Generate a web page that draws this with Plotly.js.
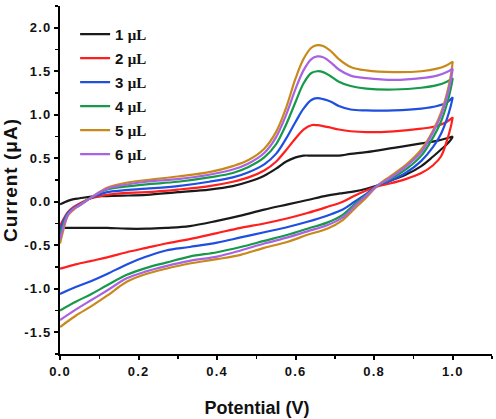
<!DOCTYPE html>
<html>
<head>
<meta charset="utf-8">
<script src="https://cdn.plot.ly/plotly-3.0.1.min.js"></script>
<style>
  html, body { margin: 0; padding: 0; background: #ffffff; }
  #chart { width: 496px; height: 419px; }
  .xtick text, .ytick text { letter-spacing: 1.2px; }
  .g-ytitle text { letter-spacing: 1px; }
  .g-xtitle { transform: translate(-19px, 0px); }
</style>
</head>
<body>
<div id="chart"></div>
<script>
// ---- data ----
const seriesNames = ['1 μL', '2 μL', '3 μL', '4 μL', '5 μL', '6 μL'];
const seriesColors = ['#1a1a1a', '#ff1f1f', '#1e4fe0', '#17994a', '#c8891a', '#a862e2'];

// forward (anodic) scan potentials, V
const potentialForward = [0, 0.01, 0.02, 0.035, 0.05, 0.08, 0.12, 0.16, 0.22, 0.3, 0.38, 0.44, 0.48, 0.52, 0.55, 0.575, 0.6, 0.62, 0.64, 0.655, 0.67, 0.69, 0.71, 0.74, 0.78, 0.85, 0.92, 0.96, 0.985, 1.0];
// reverse (cathodic) scan potentials, V
const potentialReverse = [1.0, 0.995, 0.985, 0.97, 0.95, 0.92, 0.88, 0.84, 0.81, 0.78, 0.75, 0.72, 0.68, 0.63, 0.58, 0.52, 0.46, 0.4, 0.33, 0.27, 0.22, 0.17, 0.12, 0.08, 0.04, 0.0];

// currents, μA
const forward1uL = [-0.03, -0.01, 0.01, 0.03, 0.04, 0.06, 0.065, 0.07, 0.08, 0.11, 0.14, 0.18, 0.23, 0.30, 0.38, 0.46, 0.51, 0.53, 0.53, 0.53, 0.53, 0.53, 0.53, 0.55, 0.57, 0.62, 0.67, 0.70, 0.73, 0.75];
const reverse1uL = [0.75, 0.71, 0.66, 0.60, 0.52, 0.41, 0.31, 0.24, 0.19, 0.15, 0.12, 0.10, 0.07, 0.02, -0.03, -0.09, -0.16, -0.22, -0.28, -0.30, -0.31, -0.31, -0.30, -0.30, -0.30, -0.30];

const forward2uL = [-0.28, -0.19, -0.12, -0.06, -0.02, 0.04, 0.08, 0.10, 0.11, 0.14, 0.18, 0.23, 0.28, 0.36, 0.46, 0.59, 0.73, 0.83, 0.88, 0.88, 0.87, 0.85, 0.83, 0.81, 0.80, 0.81, 0.84, 0.87, 0.92, 0.97];
const reverse2uL = [0.97, 0.86, 0.70, 0.52, 0.42, 0.33, 0.26, 0.21, 0.18, 0.13, 0.07, 0.00, -0.06, -0.13, -0.19, -0.25, -0.30, -0.36, -0.43, -0.48, -0.53, -0.58, -0.64, -0.68, -0.72, -0.77];

const forward3uL = [-0.33, -0.21, -0.13, -0.07, -0.03, 0.045, 0.11, 0.13, 0.15, 0.18, 0.23, 0.28, 0.34, 0.43, 0.55, 0.72, 0.92, 1.07, 1.17, 1.19, 1.18, 1.15, 1.10, 1.06, 1.05, 1.05, 1.07, 1.10, 1.14, 1.20];
const reverse3uL = [1.20, 1.10, 0.95, 0.78, 0.63, 0.47, 0.33, 0.24, 0.19, 0.09, 0.00, -0.09, -0.16, -0.23, -0.29, -0.35, -0.41, -0.47, -0.52, -0.56, -0.63, -0.72, -0.83, -0.91, -0.98, -1.06];

const forward4uL = [-0.38, -0.24, -0.14, -0.08, -0.04, 0.05, 0.14, 0.17, 0.20, 0.23, 0.28, 0.33, 0.40, 0.51, 0.66, 0.88, 1.15, 1.36, 1.48, 1.50, 1.49, 1.44, 1.38, 1.33, 1.30, 1.29, 1.31, 1.34, 1.38, 1.42];
const reverse4uL = [1.42, 1.30, 1.12, 0.92, 0.74, 0.53, 0.37, 0.26, 0.19, 0.08, -0.03, -0.15, -0.24, -0.31, -0.38, -0.45, -0.52, -0.58, -0.63, -0.70, -0.76, -0.84, -0.96, -1.06, -1.15, -1.25];

const forward5uL = [-0.48, -0.30, -0.16, -0.09, -0.04, 0.05, 0.16, 0.21, 0.25, 0.29, 0.34, 0.41, 0.48, 0.61, 0.80, 1.07, 1.42, 1.64, 1.77, 1.80, 1.79, 1.73, 1.64, 1.55, 1.51, 1.49, 1.50, 1.53, 1.57, 1.61];
const reverse5uL = [1.61, 1.45, 1.24, 1.02, 0.82, 0.60, 0.42, 0.29, 0.19, 0.05, -0.08, -0.21, -0.31, -0.38, -0.46, -0.53, -0.61, -0.66, -0.71, -0.77, -0.83, -0.92, -1.08, -1.20, -1.31, -1.44];

const forward6uL = [-0.43, -0.27, -0.15, -0.08, -0.04, 0.05, 0.15, 0.19, 0.23, 0.26, 0.31, 0.37, 0.44, 0.56, 0.74, 0.99, 1.30, 1.51, 1.64, 1.67, 1.66, 1.60, 1.52, 1.45, 1.42, 1.40, 1.42, 1.45, 1.49, 1.53];
const reverse6uL = [1.53, 1.39, 1.20, 0.99, 0.80, 0.57, 0.40, 0.27, 0.19, 0.07, -0.05, -0.18, -0.27, -0.34, -0.41, -0.48, -0.56, -0.63, -0.68, -0.74, -0.80, -0.88, -1.02, -1.13, -1.24, -1.36];

const xTickVals = [0, 0.2, 0.4, 0.6, 0.8, 1.0];
const xTickText = ['0.0', '0.2', '0.4', '0.6', '0.8', '1.0'];
const yTickVals = [-1.5, -1.0, -0.5, 0, 0.5, 1.0, 1.5, 2.0];
const yTickText = ['-1.5', '-1.0', '-0.5', '0.0', '0.5', '1.0', '1.5', '2.0'];

// ---- build traces ----
const forwardSets = [forward1uL, forward2uL, forward3uL, forward4uL, forward5uL, forward6uL];
const reverseSets = [reverse1uL, reverse2uL, reverse3uL, reverse4uL, reverse5uL, reverse6uL];

const FONT = 'Liberation Sans, Arial, sans-serif';
const traces = seriesNames.map(function (name, i) {
  const parts = name.split(' ');
  return {
    type: 'scatter',
    mode: 'lines',
    name: parts[0] + ' <span style="font-family:\'Liberation Serif\', serif">' + parts[1] + '</span>',
    legendgroup: 'g' + i,
    x: potentialForward.concat(potentialReverse),
    y: forwardSets[i].concat(reverseSets[i]),
    line: { color: seriesColors[i], width: 2.2, shape: 'spline', smoothing: 1.0 },
    hoverinfo: 'skip'
  };
});

const layout = {
  width: 496,
  height: 419,
  margin: { l: 60, r: 4, t: 6, b: 65, pad: 0 },
  paper_bgcolor: '#ffffff',
  plot_bgcolor: '#ffffff',
  font: { family: FONT, color: '#111111' },
  showlegend: true,
  legend: {
    x: 0.035, xanchor: 'left',
    y: 0.966, yanchor: 'top',
    bgcolor: 'rgba(0,0,0,0)',
    font: { family: FONT, size: 15, weight: 'bold', color: '#111111' },
    tracegroupgap: 1.5,
    itemwidth: 30
  },
  xaxis: {
    range: [0, 1.1],
    tickvals: xTickVals,
    ticktext: xTickText,
    showgrid: false, zeroline: false,
    showline: true, linecolor: '#000000', linewidth: 2,
    ticks: 'outside', ticklen: 4, tickwidth: 2, tickcolor: '#000000',
    minor: { dtick: 0.1, tick0: 0, ticks: 'outside', ticklen: 3, tickwidth: 1.5, tickcolor: '#000000', showgrid: false },
    tickfont: { family: FONT, size: 13, weight: 'bold', color: '#111111' },
    automargin: false,
    title: { text: 'Potential (V)', font: { family: FONT, size: 18, weight: 'bold', color: '#111111' }, standoff: 24 }
  },
  yaxis: {
    range: [-1.75, 2.25],
    tickvals: yTickVals,
    ticktext: yTickText,
    showgrid: false, zeroline: false,
    showline: true, linecolor: '#000000', linewidth: 2,
    ticks: 'outside', ticklen: 4, tickwidth: 2, tickcolor: '#000000',
    minor: { dtick: 0.25, tick0: 0, ticks: 'outside', ticklen: 3, tickwidth: 1.5, tickcolor: '#000000', showgrid: false },
    tickfont: { family: FONT, size: 13, weight: 'bold', color: '#111111' },
    automargin: false,
    title: { text: 'Current (μA)', font: { family: FONT, size: 19, weight: 'bold', color: '#111111' }, standoff: 4 }
  }
};

Plotly.newPlot('chart', traces, layout, { staticPlot: true, displayModeBar: false });
</script>
</body>
</html>
